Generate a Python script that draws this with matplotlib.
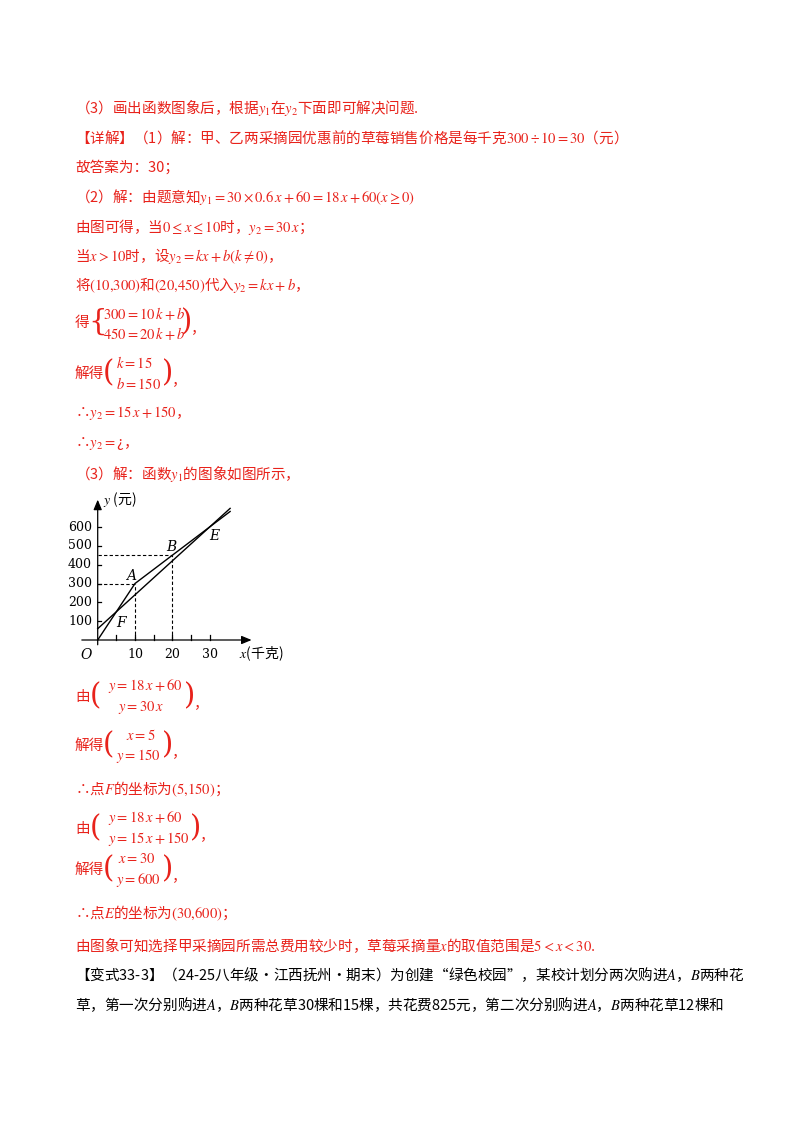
import numpy as np
import matplotlib.pyplot as plt

plt.rcParams['font.family'] = ['Noto Sans CJK SC', 'DejaVu Sans']
plt.rcParams['mathtext.fontset'] = 'stix'

# chart data
x_ticks = [10, 20, 30]
y_ticks = [100, 200, 300, 400, 500, 600]
y1_x = [0, 35.5]
y1_y = [18 * v + 60 for v in y1_x]
y2_x = [0, 10, 35.5]
y2_y = [0, 300, 15 * 35.5 + 150]
points = {'A': (10, 300), 'B': (20, 450)}

W, H = 800, 1132
fig = plt.figure(figsize=(W / 100, H / 100), dpi=100)
RED = '#e8221b'
FS = 10.5


def t(x, y, s, color=RED, size=FS, **kw):
    fig.text(x / W, 1 - y / H, s, color=color, fontsize=size, va='center', ha='left', **kw)


def brace(x, y, s, size=21):
    fig.text(x / W, 1 - y / H, s, color=RED, fontsize=size, va='center', ha='left',
             family='DejaVu Serif', fontweight='light')


t(75, 107, '（3）画出函数图象后，根据$\\mathit{y}_1$在$\\mathit{y}_2$下面即可解决问题.')
t(75, 137, '【详解】（1）解：甲、乙两采摘园优惠前的草莓销售价格是每千克$300\\div10=30$（元）')
t(75, 167, '故答案为：30；')
t(75, 197, '（2）解：由题意知$y_1=30\\times0.6\\,x+60=18\\,x+60\\left(x\\geq0\\right)$')
t(75, 227, '由图可得，当$0\\leq x\\leq10$时，$y_2=30\\,x$；')
t(75, 256, '当$x>10$时，设$y_2=kx+b\\left(k\\neq0\\right)$，')
t(75, 285, '将$\\left(10{,}300\\right)$和$\\left(20{,}450\\right)$代入$y_2=kx+b$，')
t(75, 323, '得')
brace(88, 322, '{')
t(103, 313, '$300=10\\,k+b$')
t(103, 334, '$450=20\\,k+b$')
brace(181, 322, ')')
t(191, 328, '，')
t(75, 374, '解得')
brace(103, 373, '(')
t(116, 363, '$k=15$')
t(116, 384, '$b=150$')
brace(162, 373, ')')
t(172, 380, '，')
t(75, 413, '∴$y_2=15\\,x+150$，')
t(75, 443, '∴$y_2=$¿，')
t(75, 473, '（3）解：函数$y_1$的图象如图所示，')

t(75, 697, '由')
brace(90, 696, '(')
t(108, 686, '$y=18\\,x+60$')
t(118, 707, '$y=30\\,x$')
brace(184, 696, ')')
t(194, 703, '，')
t(75, 746, '解得')
brace(103, 745, '(')
t(126, 735, '$x=5$')
t(116, 756, '$y=150$')
brace(162, 745, ')')
t(172, 752, '，')
t(75, 789, '∴点$F$的坐标为$\\left(5{,}150\\right)$；')
t(75, 829, '由')
brace(90, 828, '(')
t(108, 818, '$y=18\\,x+60$')
t(108, 839, '$y=15\\,x+150$')
brace(190, 828, ')')
t(200, 835, '，')
t(75, 870, '解得')
brace(103, 869, '(')
t(118, 859, '$x=30$')
t(116, 880, '$y=600$')
brace(162, 869, ')')
t(172, 876, '，')
t(75, 913, '∴点$E$的坐标为$\\left(30{,}600\\right)$；')
t(75, 945, '由图象可知选择甲采摘园所需总费用较少时，草莓采摘量$x$的取值范围是$5<x<30$.')
t(75, 975, '【变式33-3】（24-25八年级·江西抚州·期末）为创建“绿色校园”，某校计划分两次购进$A$，$B$两种花',
  color='black')
t(75, 1005, '草，第一次分别购进$A$，$B$两种花草30棵和15棵，共花费825元，第二次分别购进$A$，$B$两种花草12棵和',
  color='black')

# chart: data x -> px 97.7 + 3.73x, y -> px 640 - 0.1883y
x0, x1, yb, yt = -6, 43, -100, 760
px = lambda v: 97.7 + 3.73 * v
py = lambda v: 640 - 0.1883 * v
left, right = px(x0), px(x1)
top, bot = py(yt), py(yb)
ax = fig.add_axes([left / W, 1 - bot / H, (right - left) / W, (bot - top) / H])
ax.set_xlim(x0, x1)
ax.set_ylim(yb, yt)
ax.axis('off')

ak = dict(arrowstyle='-|>,head_length=0.6,head_width=0.25', color='black', lw=0.9)
ax.annotate('', xy=(42, 0), xytext=(-5, 0), arrowprops=ak)
ax.annotate('', xy=(0, 760), xytext=(0, -40), arrowprops=ak)
for v in x_ticks:
    ax.plot([v, v], [0, 25], color='black', lw=0.9)
    ax.text(v, -40, str(v), ha='center', va='top', fontsize=9, family='DejaVu Serif')
for v in y_ticks:
    ax.plot([0, 1], [v, v], color='black', lw=0.9)
    ax.text(-1.5, v, str(v), ha='right', va='center', fontsize=9, family='DejaVu Serif')
for v in [5, 15, 25]:
    ax.plot([v, v], [0, 25], color='black', lw=0.9)

ax.plot(y1_x, y1_y, color='black', lw=1.0)
ax.plot(y2_x, y2_y, color='black', lw=1.0)
for name, (a, b) in points.items():
    ax.plot([0, a], [b, b], color='black', lw=0.8, ls=(0, (3, 2)))
    ax.plot([a, a], [0, b], color='black', lw=0.8, ls=(0, (3, 2)))
ax.text(7.5, 320, 'A', style='italic', fontsize=10, family='DejaVu Serif')
ax.text(18.5, 470, 'B', style='italic', fontsize=10, family='DejaVu Serif')
ax.text(30, 530, 'E', style='italic', fontsize=10, family='DejaVu Serif')
ax.text(5, 70, 'F', style='italic', fontsize=10, family='DejaVu Serif')
ax.text(-1.5, -40, 'O', style='italic', fontsize=10, family='DejaVu Serif', ha='right', va='top')
ax.text(1.5, 745, '$y$ (元)', fontsize=10, va='center')
ax.text(38, -75, '$x$(千克)', fontsize=10, va='center')

fig.savefig('out.png', dpi=100)
